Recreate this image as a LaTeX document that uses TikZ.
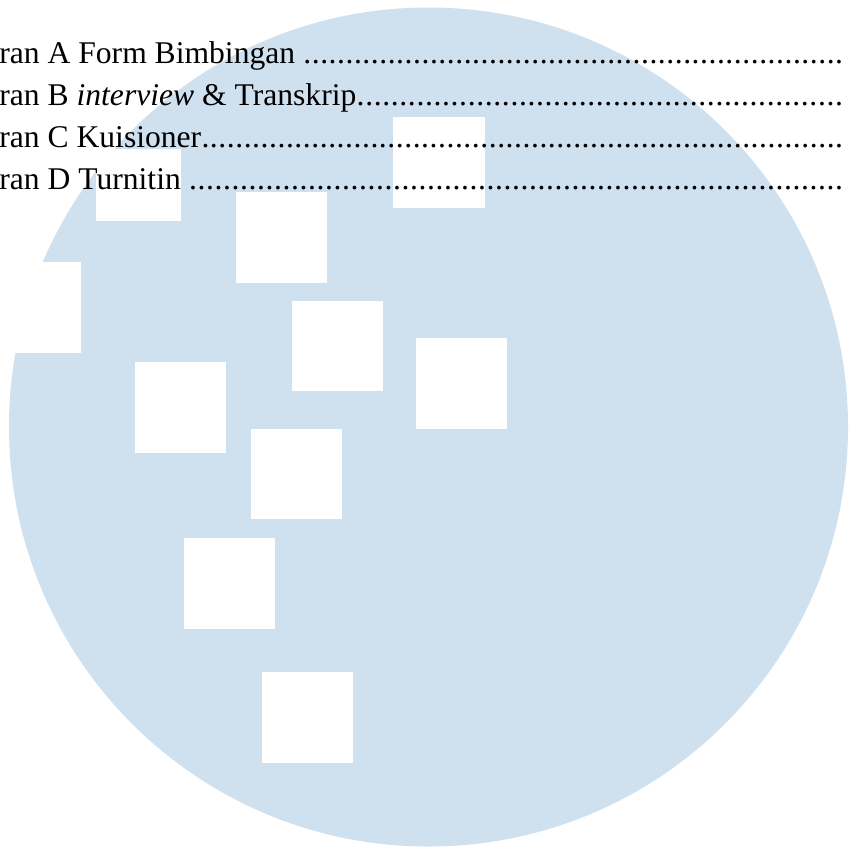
\documentclass[tikz,border=0pt]{standalone}
\usepackage{fontspec}
\setmainfont{Liberation Serif}
\definecolor{wm}{RGB}{207,224,239}
\newcommand{\dotrow}[1]{\hbox to 422pt{#1\xleaders\hbox to 4.2pt{\hss.\hss}\hfill}}
\begin{document}
\begin{tikzpicture}[x=0.5pt,y=-0.5pt,
  tocline/.style={anchor=base west,inner sep=0pt,font=\fontsize{15.8}{18}\selectfont},
  hole/.style={fill=white}]
\useasboundingbox (0,0) rectangle (849,847);
\fill[wm] (428.5,427) circle[radius=419.5];
% white squares
\fill[hole] (96,149) rectangle (181,221);
\fill[hole] (236,192) rectangle (327,283);
\fill[hole] (393,117) rectangle (485,208);
\fill[hole] (-10,262) rectangle (81,353);
\fill[hole] (292,301) rectangle (383,391);
\fill[hole] (135,362) rectangle (226,453);
\fill[hole] (416,338) rectangle (507,429);
\fill[hole] (251,429) rectangle (342,519);
\fill[hole] (184,538) rectangle (275,629);
\fill[hole] (262,672) rectangle (353,763);
% text lines
\node[tocline] (la) at (-1,63) {\dotrow{ran A Form Bimbingan }};
\node[tocline] (lb) at (-1,105) {\dotrow{ran B \textit{interview} \& Transkrip}};
\node[tocline] (lc) at (-1,147) {\dotrow{ran C Kuisioner}};
\node[tocline] (ld) at (-1,189) {\dotrow{ran D Turnitin }};
\end{tikzpicture}
\end{document}
